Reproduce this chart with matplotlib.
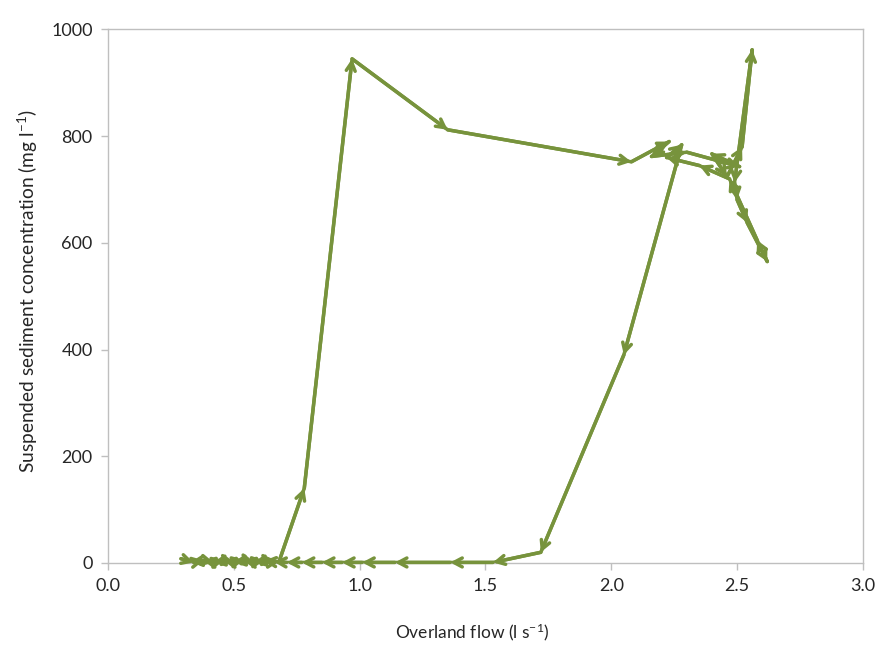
import matplotlib
matplotlib.use("Agg")
import matplotlib.pyplot as plt
from matplotlib.ticker import FormatStrFormatter

plt.rcParams['font.family'] = ['Lato', 'DejaVu Sans']
plt.rcParams['mathtext.default'] = 'regular'

# Overland flow (l s-1), in time order
flow = [0.29, 0.34, 0.38, 0.42, 0.46, 0.50, 0.54, 0.58, 0.62, 0.66, 0.68,
        0.78, 0.97, 1.35, 2.08, 2.23, 2.16, 2.30, 2.51, 2.40, 2.46, 2.52,
        2.56, 2.49, 2.50, 2.54, 2.62, 2.58, 2.47, 2.35, 2.22, 2.28,
        2.05, 1.72, 1.53, 1.36, 1.14, 1.01, 0.93, 0.85, 0.77, 0.71,
        0.66, 0.62, 0.58, 0.54, 0.50, 0.46, 0.42, 0.38, 0.33]
# Suspended sediment concentration (mg l-1)
ssc = [8, 1, 5, 1, 5, 2, 6, 2, 5, 2, 3,
       140, 945, 812, 752, 790, 762, 770, 743, 767, 724, 780,
       962, 713, 681, 638, 565, 605, 720, 745, 760, 784,
       390, 20, 1, 1, 1, 1, 1, 1, 1, 1,
       2, 4, 1, 4, 1, 4, 1, 4, 2]

xticks = [0.0, 0.5, 1.0, 1.5, 2.0, 2.5, 3.0]
yticks = [0, 200, 400, 600, 800, 1000]

color = '#77933C'

fig = plt.figure(figsize=(8.86, 6.57), dpi=100)
ax = fig.add_axes([0.1219, 0.1431, 0.852, 0.812])

ax.plot(flow, ssc, color=color, lw=2.5, solid_capstyle='round')
for i in range(1, len(flow)):
    ax.annotate('', xy=(flow[i], ssc[i]), xytext=(flow[i-1], ssc[i-1]),
                arrowprops=dict(arrowstyle='->,head_length=0.6,head_width=0.32',
                                color=color, lw=2.5, shrinkA=0, shrinkB=0))

ax.set_xlim(0, 3.0)
ax.set_ylim(0, 1000)
ax.set_xticks(xticks)
ax.set_yticks(yticks)
ax.xaxis.set_major_formatter(FormatStrFormatter('%.1f'))

for s in ax.spines.values():
    s.set_color('#BFBFBF')
    s.set_linewidth(1.0)
ax.tick_params(axis='both', direction='out', length=5, width=1.0,
               color='#BFBFBF', labelsize=13, labelcolor='#262626', pad=6)

ax.set_xlabel('Overland flow (l s$^{-1}$)', fontsize=12.5, color='#262626')
ax.xaxis.set_label_coords(0.482, -0.11)
ax.set_ylabel('Suspended sediment concentration (mg l$^{-1}$)', fontsize=13.8,
              color='#262626')
ax.yaxis.set_label_coords(-0.09, 0.51)

fig.savefig('out.png', dpi=100)
